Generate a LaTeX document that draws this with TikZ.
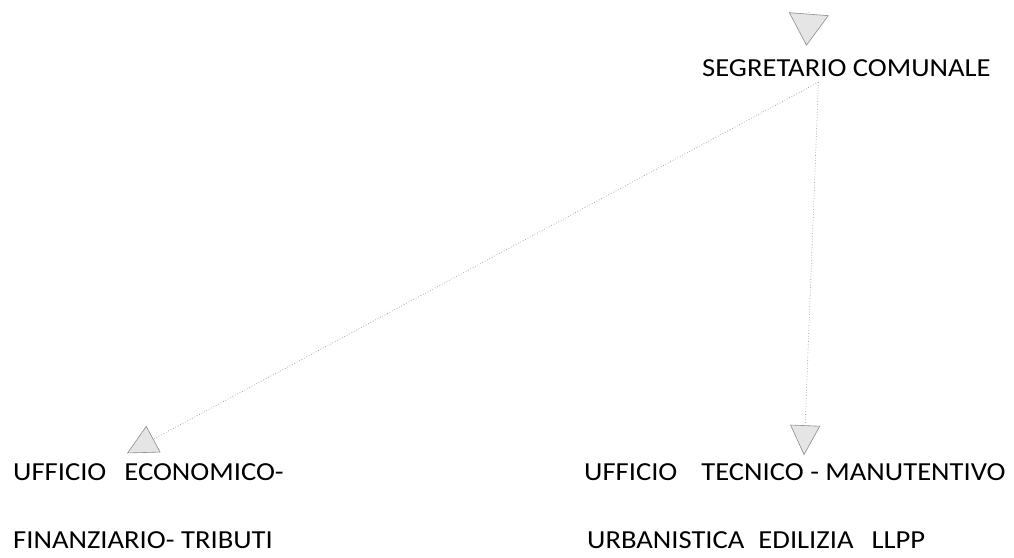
\documentclass[tikz,border=0pt]{standalone}
\usepackage{fontspec}
\setmainfont{Carlito}[FakeStretch=1.1]
\usepackage{tikz}
\usetikzlibrary{arrows.meta, positioning, calc}

\begin{document}
\begin{tikzpicture}[
    x=1pt, y=-1pt,
    every node/.style={inner sep=0pt, font=\fontsize{26}{30}\selectfont},
    office/.style={anchor=west, text=black},
    link/.style={draw=black!40, dotted, line width=0.7pt,
                 -{Triangle[length=30pt, width=30pt, line width=0.6pt, sep=0pt,
                            color=black!45, fill=black!10]}},
    widetip/.style={-{Triangle[length=32pt, width=40pt, line width=0.6pt, sep=0pt,
                            color=black!45, fill=black!10]}},
]
\useasboundingbox (0,0) rectangle (1014,557);

% ================= Top =================
\node[office] (seg) at (702,68.5) {SEGRETARIO COMUNALE};
\coordinate (segin) at (809,12);

% ================= Bottom left =================
\node[office] (econ) at (13,472) {UFFICIO\hspace{18pt}ECONOMICO-};
\node[office] (fin) at (13,540) {FINANZIARIO- TRIBUTI};

% ================= Bottom right =================
\node[office] (tec) at (584,472) {UFFICIO\hspace{24pt}TECNICO - MANUTENTIVO};
\node[office] (urb) at (587,540) {URBANISTICA\hspace{14pt}EDILIZIA\hspace{18pt}LLPP};

% Arrows
\draw[link, widetip] (segin) -- ($(seg.north)+(-40,-14)$);
\draw[link] ($(seg.south)+(-28,5)$) -- ($(econ.north west)+(114,-10)$);
\draw[link] ($(seg.south)+(-28,5)$) -- ($(tec.north west)+(220,-8)$);

\end{tikzpicture}
\end{document}
